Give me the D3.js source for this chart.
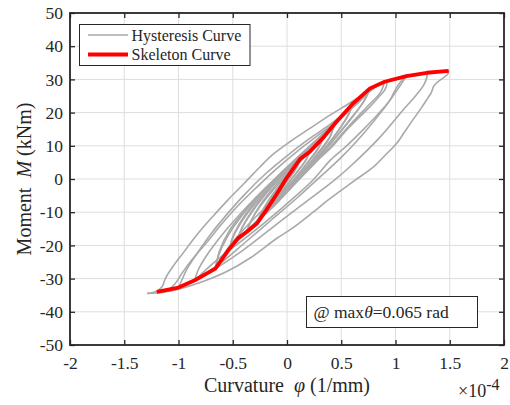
<!DOCTYPE html>
<html>
<head>
<meta charset="utf-8">
<script src="https://cdn.jsdelivr.net/npm/d3@7/dist/d3.min.js"></script>
<style>
  html, body { margin: 0; padding: 0; background: #fff; }
  svg { display: block; }
  text { font-family: "Liberation Serif", "Times New Roman", serif; fill: #262626; }
</style>
</head>
<body>
<svg id="chart" width="510" height="405"></svg>
<script>
// ---------------- DATA (curvature in 1e-4 1/mm, moment in kNm) ----------------
const xTicks = [-2, -1.5, -1, -0.5, 0, 0.5, 1, 1.5, 2];
const yTicks = [-50, -40, -30, -20, -10, 0, 10, 20, 30, 40, 50];
const xTickLabels = ["-2", "-1.5", "-1", "-0.5", "0", "0.5", "1", "1.5", "2"];
const yTickLabels = ["-50", "-40", "-30", "-20", "-10", "0", "10", "20", "30", "40", "50"];

// Skeleton (envelope) curve
const skeletonX = [-1.2, -1.0, -0.85, -0.66, -0.53, -0.45, -0.37, -0.28, -0.19, -0.1, 0.0, 0.12, 0.21, 0.33, 0.45, 0.61, 0.765, 0.9, 1.1, 1.29, 1.49];
const skeletonY = [-34, -32.7, -30.5, -27, -21, -17.8, -15.9, -13.5, -9.3, -4.8, 0.5, 6.0, 8.2, 12.3, 17, 22.8, 27.3, 29.3, 31.0, 32.0, 32.6];

// Hysteresis branches: reloading (upper) branches
const upperA  = [[-0.1,-4.8],[-0.06,-2.5],[0.0,0.8],[0.06,3.5],[0.12,5.8]];
const upperA2 = [[-0.1,-4.8],[-0.05,-1.8],[0.03,1.8],[0.12,5.8]];
const upperB  = [[-0.19,-9.3],[-0.15,-6.5],[-0.08,-3],[0,0.8],[0.1,4.8],[0.21,8.2]];
const upperB2 = [[-0.19,-9.3],[-0.16,-7],[-0.1,-3.8],[-0.02,-0.2],[0.08,3.8],[0.21,8.2]];
const upperC  = [[-0.28,-13.5],[-0.24,-10.5],[-0.16,-6],[-0.05,-1.2],[0.08,3.8],[0.2,8.2],[0.33,12.3]];
const upperC2 = [[-0.28,-13.5],[-0.25,-11],[-0.18,-7],[-0.08,-2.5],[0.05,2.8],[0.19,7.8],[0.33,12.3]];
const upperD  = [[-0.37,-15.9],[-0.33,-12.5],[-0.24,-7.5],[-0.12,-2.5],[0.02,2.5],[0.16,7.2],[0.3,11.8],[0.43,15.8]];
const upperD2 = [[-0.37,-15.9],[-0.34,-13.2],[-0.26,-8.8],[-0.14,-3.8],[0,1.2],[0.15,6.2],[0.3,11.2],[0.43,15.8]];
const upperE  = [[-0.45,-17.8],[-0.41,-14.5],[-0.32,-9.5],[-0.2,-4.2],[-0.05,1],[0.1,6],[0.27,11.2],[0.44,16.5],[0.61,22.8]];
const upperE2 = [[-0.45,-17.8],[-0.42,-15],[-0.34,-10.8],[-0.22,-5.5],[-0.07,0],[0.09,5.2],[0.26,10.5],[0.44,16.2],[0.61,22.8]];
const upperF  = [[-0.53,-21],[-0.5,-17.5],[-0.42,-12.5],[-0.3,-7],[-0.15,-1.5],[0,3.5],[0.18,9],[0.37,14.8],[0.55,20.5],[0.68,24.8],[0.765,27.3]];
const upperF2 = [[-0.53,-21],[-0.49,-17],[-0.4,-12],[-0.27,-6.5],[-0.12,-1],[0.04,4.5],[0.22,10],[0.42,16],[0.6,22],[0.765,27.3]];
const upperG  = [[-0.66,-27],[-0.63,-23],[-0.56,-18],[-0.45,-12.5],[-0.3,-6.5],[-0.13,-0.8],[0.05,5],[0.25,11],[0.45,17],[0.62,22.5],[0.76,26.8],[0.9,29.3]];
const upperG2 = [[-0.66,-27],[-0.62,-21.5],[-0.53,-15.5],[-0.4,-10],[-0.25,-4.5],[-0.08,1],[0.1,6.5],[0.3,12.3],[0.5,18.3],[0.66,23.5],[0.78,27],[0.9,29.3]];
const upperH  = [[-0.85,-30.5],[-0.82,-27.5],[-0.75,-23.5],[-0.64,-18.5],[-0.5,-13],[-0.33,-7],[-0.15,-1.2],[0.05,5],[0.25,11],[0.45,17],[0.62,22.5],[0.75,26.5],[0.9,29.3],[1.1,31]];
const upperI  = [[-1.0,-32.7],[-0.97,-30.5],[-0.92,-27],[-0.83,-22.5],[-0.7,-16.5],[-0.55,-10.5],[-0.4,-5],[-0.2,1.5],[0,7],[0.2,12],[0.4,16.5],[0.58,21.2],[0.72,25.5],[0.8,27.5],[0.9,29.3],[1.1,31],[1.29,32]];
const upperJ  = [[-1.2,-34],[-1.1,-33.5],[-1.03,-31.5],[-0.97,-28.5],[-0.88,-24.5],[-0.75,-19.5],[-0.6,-13.5],[-0.45,-8],[-0.28,-2.5],[-0.1,3],[0.1,8.5],[0.3,13.5],[0.5,18.5],[0.65,22.8],[0.78,26.8],[0.9,29.3],[1.1,31],[1.29,32],[1.49,32.6]];
const upperK  = [[-1.29,-34.5],[-1.2,-33.8],[-1.15,-32.4],[-1.12,-29.9],[-1.05,-26.3],[-0.96,-22.4],[-0.83,-16.8],[-0.69,-11.5],[-0.55,-6.5],[-0.4,-1.5],[-0.25,3.6],[-0.13,7.4],[0.03,11.3],[0.2,15],[0.4,19.3],[0.55,22.3],[0.68,25],[0.78,27]];

// Unloading (lower) branches
const lowerA  = [[0.12,5.8],[0.1,4],[0.04,1],[-0.03,-2],[-0.1,-4.8]];
const lowerA2 = [[0.12,5.8],[0.07,2.5],[-0.02,-1.2],[-0.1,-4.8]];
const lowerB  = [[0.21,8.2],[0.18,6],[0.1,2.5],[0,-1.8],[-0.1,-5.5],[-0.19,-9.3]];
const lowerB2 = [[0.21,8.2],[0.16,5],[0.08,1.5],[-0.02,-2.5],[-0.11,-6],[-0.19,-9.3]];
const lowerC  = [[0.33,12.3],[0.3,10],[0.2,5.5],[0.08,0.5],[-0.05,-4.5],[-0.17,-9],[-0.28,-13.5]];
const lowerC2 = [[0.33,12.3],[0.29,9.2],[0.19,4.8],[0.06,-0.5],[-0.07,-5.3],[-0.18,-9.5],[-0.28,-13.5]];
const lowerD  = [[0.43,15.8],[0.4,13],[0.3,8.5],[0.17,3.2],[0.03,-2],[-0.1,-6.8],[-0.24,-11.5],[-0.37,-15.9]];
const lowerD2 = [[0.43,15.8],[0.39,12.2],[0.28,7.2],[0.14,2],[0,-3],[-0.13,-7.8],[-0.26,-12],[-0.37,-15.9]];
const lowerE  = [[0.61,22.8],[0.57,19.5],[0.47,14.5],[0.33,8.5],[0.17,2.5],[0.0,-3.5],[-0.15,-8.8],[-0.3,-13.5],[-0.45,-17.8]];
const lowerE2 = [[0.61,22.8],[0.55,18.5],[0.45,13.5],[0.31,7.5],[0.15,1.5],[-0.02,-4.5],[-0.18,-9.8],[-0.32,-14],[-0.45,-17.8]];
const lowerF  = [[0.765,27.3],[0.72,24],[0.6,18.5],[0.45,12.5],[0.28,6],[0.1,-0.5],[-0.08,-6.5],[-0.25,-12],[-0.4,-16.8],[-0.53,-21]];
const lowerF2 = [[0.765,27.3],[0.7,23],[0.57,17.5],[0.42,11.5],[0.25,5],[0.07,-1.5],[-0.1,-7.5],[-0.28,-13],[-0.42,-17.5],[-0.53,-21]];
const lowerG  = [[0.9,29.3],[0.92,28.8],[0.9,26.8],[0.84,24.5],[0.765,21.8],[0.55,14.8],[0.4,9.2],[0.2,3.5],[0.03,-1.5],[-0.15,-7],[-0.35,-13.5],[-0.5,-19],[-0.6,-23.5],[-0.66,-27]];
const lowerG2 = [[0.9,29.3],[0.86,26],[0.76,22.5],[0.6,17],[0.45,11.5],[0.28,5.5],[0.1,-0.5],[-0.08,-6.2],[-0.26,-12],[-0.43,-17.5],[-0.57,-22.5],[-0.66,-27]];
const lowerH  = [[1.1,31],[1.06,29.8],[1.0,27],[0.95,23.8],[0.83,19.2],[0.7,14.8],[0.55,10],[0.4,5.7],[0.24,-0.3],[0.05,-6],[-0.2,-13],[-0.45,-19.5],[-0.65,-24.5],[-0.85,-30.5]];
const lowerH2 = [[1.1,31],[1.03,27.5],[0.9,21.5],[0.7,13.5],[0.5,6.5],[0.3,0.5],[0.1,-5.5],[-0.15,-12.5],[-0.4,-19.5],[-0.62,-25.5],[-0.82,-29.8],[-1.0,-32.7]];
const lowerI  = [[1.29,32],[1.29,30.8],[1.26,28.3],[1.17,24.5],[1.07,20.8],[0.86,12.7],[0.58,3.7],[0.42,-0.8],[0.15,-7.5],[-0.15,-15],[-0.45,-22.5],[-0.7,-27.8],[-0.9,-31.2],[-1.0,-32.7]];
const lowerJ  = [[1.49,32.6],[1.48,31.5],[1.42,30],[1.38,29],[1.35,27.8],[1.33,26],[1.3,24.5],[1.24,21.5],[1.16,17.8],[1.08,14],[1.01,10.7],[0.9,7],[0.8,3.7],[0.6,-1],[0.38,-6.3],[0.24,-10],[0.05,-14.8],[-0.1,-18],[-0.34,-23.8],[-0.55,-27.8],[-0.8,-31.2],[-1.0,-33.2],[-1.15,-34.2],[-1.29,-34.5]];

const hysteresisBranches = [
  upperA, upperA2, upperB, upperB2, upperC, upperC2, upperD, upperD2, upperE, upperE2, upperF, upperF2, upperG, upperG2, upperH, upperI, upperJ, upperK,
  lowerA, lowerA2, lowerB, lowerB2, lowerC, lowerC2, lowerD, lowerD2, lowerE, lowerE2, lowerF, lowerF2, lowerG, lowerG2, lowerH, lowerH2, lowerI, lowerJ
];

const legendLabels = ["Hysteresis Curve", "Skeleton Curve"];

// ---------------- LAYOUT ----------------
const W = 510, H = 405;
const plot = { left: 70, right: 504, top: 13, bottom: 345 };

const svg = d3.select("#chart");
svg.append("rect").attr("width", W).attr("height", H).attr("fill", "#fff");

const x = d3.scaleLinear().domain([-2, 2]).range([plot.left, plot.right]);
const y = d3.scaleLinear().domain([-50, 50]).range([plot.bottom, plot.top]);

// grid
const grid = svg.append("g");
grid.selectAll("line.gx").data(xTicks.slice(1, -1)).join("line")
  .attr("x1", d => x(d)).attr("x2", d => x(d))
  .attr("y1", plot.top).attr("y2", plot.bottom)
  .attr("stroke", "#dedede").attr("stroke-width", 1);
grid.selectAll("line.gy").data(yTicks.slice(1, -1)).join("line")
  .attr("y1", d => y(d)).attr("y2", d => y(d))
  .attr("x1", plot.left).attr("x2", plot.right)
  .attr("stroke", "#dedede").attr("stroke-width", 1);

// curves
svg.append("clipPath").attr("id", "clip").append("rect")
  .attr("x", plot.left).attr("y", plot.top)
  .attr("width", plot.right - plot.left).attr("height", plot.bottom - plot.top);

const smooth = d3.line().x(d => x(d[0])).y(d => y(d[1])).curve(d3.curveCatmullRom.alpha(0.5));
const curves = svg.append("g").attr("clip-path", "url(#clip)");
curves.selectAll("path.h").data(hysteresisBranches).join("path")
  .attr("d", smooth)
  .attr("fill", "none").attr("stroke", "#a9a9a9").attr("stroke-width", 1.6)
  .attr("stroke-linejoin", "round");

const skeleton = skeletonX.map((v, i) => [v, skeletonY[i]]);
const straight = d3.line().x(d => x(d[0])).y(d => y(d[1]));
curves.append("path").attr("d", straight(skeleton))
  .attr("fill", "none").attr("stroke", "#ff0000").attr("stroke-width", 3.8)
  .attr("stroke-linejoin", "round").attr("stroke-linecap", "butt");

// axes (box with inward ticks on all sides)
const axisColor = "#262626";
const tickLen = 5;
const axBottom = svg.append("g").attr("transform", `translate(0,${plot.bottom})`)
  .call(d3.axisBottom(x).tickValues(xTicks).tickFormat((d, i) => xTickLabels[i]).tickSizeInner(-tickLen).tickSizeOuter(0).tickPadding(12));
const axTop = svg.append("g").attr("transform", `translate(0,${plot.top})`)
  .call(d3.axisTop(x).tickValues(xTicks).tickFormat("").tickSizeInner(-tickLen).tickSizeOuter(0));
const axLeft = svg.append("g").attr("transform", `translate(${plot.left},0)`)
  .call(d3.axisLeft(y).tickValues(yTicks).tickFormat((d, i) => yTickLabels[i]).tickSizeInner(-tickLen).tickSizeOuter(0).tickPadding(7));
const axRight = svg.append("g").attr("transform", `translate(${plot.right},0)`)
  .call(d3.axisRight(y).tickValues(yTicks).tickFormat("").tickSizeInner(-tickLen).tickSizeOuter(0));

[axBottom, axTop, axLeft, axRight].forEach(g => {
  g.select(".domain").remove();
  g.selectAll(".tick line").attr("stroke", axisColor).attr("stroke-width", 1.3);
  g.selectAll(".tick text").attr("fill", axisColor)
    .style("font-family", '"Liberation Serif", "Times New Roman", serif').style("font-size", "17.5px");
});
axBottom.selectAll(".tick text").attr("dy", "0.71em");
svg.append("rect").attr("x", plot.left).attr("y", plot.top)
  .attr("width", plot.right - plot.left).attr("height", plot.bottom - plot.top)
  .attr("fill", "none").attr("stroke", axisColor).attr("stroke-width", 1.8);

// axis labels
const xl = svg.append("text").attr("x", (plot.left + plot.right) / 2).attr("y", 392)
  .attr("text-anchor", "middle").style("font-size", "20px");
xl.append("tspan").text("Curvature\u00a0\u00a0");
xl.append("tspan").attr("font-style", "italic").text("\u03c6");
xl.append("tspan").text(" (1/mm)");

const yl = svg.append("text").attr("transform", `translate(31,${(plot.top + plot.bottom) / 2}) rotate(-90)`)
  .attr("text-anchor", "middle").style("font-size", "20px");
yl.append("tspan").text("Moment\u00a0\u00a0");
yl.append("tspan").attr("font-style", "italic").text("M");
yl.append("tspan").text(" (kNm)");

// exponent label
const ex = svg.append("text").attr("x", 458).attr("y", 397).style("font-size", "18px");
ex.append("tspan").text("\u00d710");
ex.append("tspan").attr("dy", -7).style("font-size", "16px").text("-4");

// legend
const lg = svg.append("g");
lg.append("rect").attr("x", 79.5).attr("y", 24.5).attr("width", 170.5).attr("height", 41)
  .attr("fill", "#fff").attr("stroke", axisColor).attr("stroke-width", 1);
const legendStyles = [{ c: "#a9a9a9", w: 1.6, yy: 35 }, { c: "#ff0000", w: 4, yy: 54.5 }];
legendLabels.forEach((t, i) => {
  const s = legendStyles[i];
  lg.append("line").attr("x1", 88).attr("x2", 128).attr("y1", s.yy).attr("y2", s.yy)
    .attr("stroke", s.c).attr("stroke-width", s.w);
  lg.append("text").attr("x", 131.5).attr("y", s.yy + 5.5).style("font-size", "16px").text(t);
});

// annotation
const an = svg.append("g");
an.append("rect").attr("x", 306.5).attr("y", 296.5).attr("width", 171).attr("height", 31)
  .attr("fill", "#fff").attr("stroke", axisColor).attr("stroke-width", 1);
const at = an.append("text").attr("x", 313.5).attr("y", 317.5).style("font-size", "17.5px");
at.append("tspan").text("@ max");
at.append("tspan").attr("font-style", "italic").text("\u03b8");
at.append("tspan").text("=0.065 rad");
</script>
</body>
</html>
